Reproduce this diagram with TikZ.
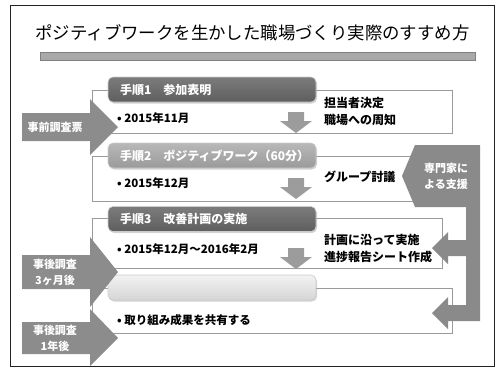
\documentclass[tikz,border=0pt]{standalone}
\usepackage{fontspec}
\setmainfont{Noto Sans CJK JP}
\usetikzlibrary{shadows}
\definecolor{framec}{HTML}{222222}
\definecolor{barc}{HTML}{A9A9A9}
\definecolor{boxline}{HTML}{9A9A9A}
\definecolor{arrc}{HTML}{8C8C8C}
\definecolor{darrc}{HTML}{9C9C9C}
\definecolor{expc}{HTML}{8A8A8A}
\definecolor{hAt}{HTML}{7C7C7C}\definecolor{hAb}{HTML}{5E5E5E}
\definecolor{hBt}{HTML}{B8B8B8}\definecolor{hBb}{HTML}{9A9A9A}
\definecolor{hDt}{HTML}{F2F2F2}\definecolor{hDb}{HTML}{D6D6D6}
\tikzset{
  stepframe/.style={draw=boxline, line width=0.6pt, inner sep=0pt, outer sep=0pt},
  hdr/.style={rounded corners=5pt, draw=white!60!gray, line width=0.6pt,
    minimum width=208pt, minimum height=25pt, inner xsep=12pt, inner ysep=0pt,
    text width=184pt, align=left, text=white,
    font=\fontsize{12}{14}\selectfont\bfseries,
    drop shadow={opacity=0.35, shadow xshift=1pt, shadow yshift=-1.5pt}},
  bullet/.style={anchor=west, inner sep=0pt, font=\fontsize{11.5}{13}\selectfont\bfseries},
  side/.style={anchor=west, inner sep=0pt, align=left, font=\fontsize{12}{17}\selectfont\bfseries},
  arrtext/.style={inner sep=0pt, align=center, text=white, font=\fontsize{11}{16}\selectfont\bfseries},
  downarr/.pic={\fill[darrc] (-8,0) -- (8,0) -- (8,9) -- (16,9) -- (0,21) -- (-16,9) -- (-8,9) -- cycle;}
}
\begin{document}
\begin{tikzpicture}[x=1pt,y=-1pt]
\useasboundingbox (0,0) rectangle (496,376);
% outer frame
\draw[framec, line width=1pt] (10,5) rectangle (494,366);
% title and bar
\node[font=\fontsize{17.4}{20}\selectfont, inner sep=0pt] (title) at (252.5,33) {ポジティブワークを生かした職場づくり実際のすすめ方};
\node[fill=barc, draw=gray, line width=0.3pt, minimum width=435pt, minimum height=8pt, inner sep=0pt] (bar) at (257.5,56) {};

% step frames
\node[stepframe, minimum width=360pt, minimum height=43pt] (box1) at (272,111.5) {};
\node[stepframe, minimum width=360pt, minimum height=45pt] (box2) at (272,178.5) {};
\node[stepframe, minimum width=350pt, minimum height=50pt] (box3) at (267,243) {};
\node[stepframe, minimum width=360pt, minimum height=45pt] (box4) at (272,310.5) {};

% headers
\node[hdr, top color=hAt, bottom color=hAb] (h1) at (212,89.5) {手順1　参加表明};
\node[hdr, top color=hBt, bottom color=hBb] (h2) at (212,155.5) {手順2　ポジティブワーク（60分）};
\node[hdr, top color=hAt, bottom color=hAb] (h3) at (212,219) {手順3　改善計画の実施};
\node[hdr, top color=hDt, bottom color=hDb] (h4) at (212,287.5) {};

% bullets
\node[bullet] (b1) at (117,118) {• 2015年11月};
\node[bullet] (b2) at (117,183) {• 2015年12月};
\node[bullet] (b3) at (117,249) {• 2015年12月～2016年2月};
\node[bullet] (b4) at (117,320) {• 取り組み成果を共有する};

% down arrows
\pic at (296,112) {downarr};
\pic at (296,178) {downarr};
\pic at (296,248) {downarr};

% side texts
\node[side] (s1) at (324,111.5) {担当者決定\\職場への周知};
\node[side] (s2) at (324,177) {グループ討議};
\node[side] (s3) at (324,249) {計画に沿って実施\\進捗報告シート作成};

% left survey arrows
\fill[arrc] (22,113) -- (90,113) -- (90,99) -- (118,127) -- (90,155) -- (90,141) -- (22,141) -- cycle;
\node[arrtext] (a1) at (55,127) {事前調査票};
\fill[arrc] (22,255) -- (90,255) -- (90,237) -- (118,272) -- (90,307) -- (90,289) -- (22,289) -- cycle;
\node[arrtext] (a2) at (55,272) {事後調査\\3ヶ月後};
\fill[arrc] (22,322) -- (90,322) -- (90,309) -- (118,338) -- (90,366) -- (90,354) -- (22,354) -- cycle;
\node[arrtext] (a3) at (55,338) {事後調査\\1年後};

% expert support shape
\fill[expc] (402,176) -- (415,145) -- (480,145) -- (480,321) -- (448,321) -- (448,329)
  -- (432,313) -- (448,297) -- (448,305) -- (466,305) -- (466,256) -- (448,256)
  -- (448,264) -- (432,248) -- (448,232) -- (448,240) -- (466,240) -- (466,207)
  -- (415,207) -- cycle;
\node[arrtext] (ex) at (446,176) {専門家に\\よる支援};
\end{tikzpicture}
\end{document}
